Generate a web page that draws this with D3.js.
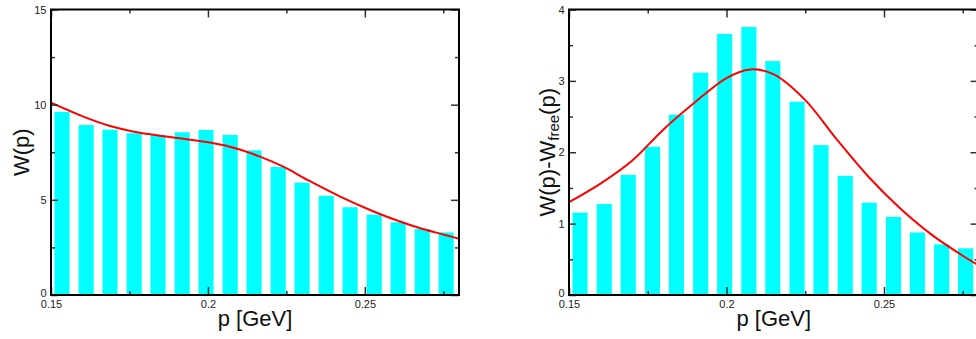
<!DOCTYPE html>
<html>
<head>
<meta charset="utf-8">
<script src="https://cdn.jsdelivr.net/npm/d3@7"></script>
<style>
  body { margin: 0; background: #fff; }
  svg { display: block; font-family: "Liberation Sans", Arial, sans-serif; }
  .tick text { font-size: 11px; fill: #222; }
</style>
</head>
<body>
<svg width="976" height="339"></svg>
<script>
// bin centres (GeV) shared by both panels
const pBins = [0.1535, 0.1612, 0.1688, 0.1765, 0.1841, 0.1918, 0.1994, 0.2071, 0.2147,
  0.2224, 0.2300, 0.2377, 0.2453, 0.2530, 0.2606, 0.2683, 0.2759]

// left panel: W(p)
const wTotal = [9.62, 8.93, 8.69, 8.50, 8.41, 8.55, 8.67, 8.41, 7.60, 6.73, 5.90, 5.21,
  4.61, 4.22, 3.82, 3.47, 3.29]
const fitTotal = [[0.15, 10.1], [0.1603, 9.37], [0.1688, 8.88], [0.1783, 8.52], [0.1879, 8.30],
  [0.1985, 8.06], [0.2070, 7.79], [0.2166, 7.27], [0.2240, 6.74], [0.2325, 5.98], [0.2420, 5.18],
  [0.2526, 4.40], [0.2605, 3.90], [0.2682, 3.48], [0.2759, 3.14], [0.2810, 2.91]]

// right panel: W(p) - Wfree(p)
const wDiff = [1.154, 1.275, 1.683, 2.077, 2.527, 3.115, 3.658, 3.755, 3.278, 2.708, 2.10,
  1.669, 1.293, 1.094, 0.876, 0.709, 0.654]
const fitDiff = [[0.15, 1.30], [0.16, 1.56], [0.17, 1.88], [0.18, 2.32], [0.19, 2.70],
  [0.20, 3.04], [0.2075, 3.16], [0.215, 3.09], [0.225, 2.73], [0.235, 2.18], [0.245, 1.66],
  [0.255, 1.22], [0.265, 0.85], [0.275, 0.55], [0.281, 0.39]]

const xMajor = [0.15, 0.2, 0.25]
const xMinor = [0.175, 0.225, 0.275]
const yMajorLeft = [0, 5, 10, 15]
const yMinorLeft = [2.5, 7.5, 12.5]
const yMajorRight = [0, 1, 2, 3, 4]
const yMinorRight = [0.5, 1.5, 2.5, 3.5]

const svg = d3.select('svg')
const barWidth = 0.0048
const plotTop = 9.5, plotBottom = 295

const drawPanel = (cfg) => {
  const x = d3.scaleLinear().domain([0.15, 0.28]).range([cfg.left, cfg.right])
  const y = d3.scaleLinear().domain([0, cfg.yMax]).range([plotBottom, plotTop])
  const g = svg.append('g')

  g.append('clipPath').attr('id', cfg.id)
    .append('rect')
      .attr('x', cfg.left).attr('y', plotTop)
      .attr('width', cfg.right - cfg.left).attr('height', plotBottom - plotTop)

  g.append('g')
    .selectAll('rect')
    .data(cfg.bars)
    .enter().append('rect')
      .attr('x', (d, i) => x(pBins[i] - barWidth / 2))
      .attr('width', x(0.15 + barWidth) - x(0.15))
      .attr('y', d => y(d))
      .attr('height', d => y(0) - y(d))
      .attr('fill', '#00ffff')

  const line = d3.line()
    .x(d => x(d[0]))
    .y(d => y(d[1]))
    .curve(d3.curveCatmullRom.alpha(0.5))

  g.append('path')
    .datum(cfg.fit)
    .attr('clip-path', `url(#${cfg.id})`)
    .attr('d', line)
    .attr('fill', 'none')
    .attr('stroke', '#ff0000')
    .attr('stroke-width', 2)

  // ticks point inward on all four sides
  const addAxis = (axis, tx, ty, size, vals, labels) => {
    const a = g.append('g')
      .attr('transform', `translate(${tx},${ty})`)
      .call(axis.tickValues(vals).tickSize(-size)
        .tickFormat(labels ? d => d : ''))
    a.select('.domain').remove()
    a.selectAll('.tick line').attr('stroke', '#333').attr('stroke-width', 1.5)
    return a
  }

  addAxis(d3.axisBottom(x).tickPadding(5), 0, plotBottom, 8, xMajor, true)
  addAxis(d3.axisBottom(x), 0, plotBottom, 4, xMinor, false)
  addAxis(d3.axisTop(x), 0, plotTop, 8, xMajor, false)
  addAxis(d3.axisTop(x), 0, plotTop, 4, xMinor, false)
  const yAx = addAxis(d3.axisLeft(y).tickPadding(4.5), cfg.left, 0, 7, cfg.yMajor, true)
  // the zero label sits a little higher so it clears the x labels
  yAx.selectAll('.tick text').filter(d => d === 0).attr('y', -2.5).attr('font-size', 10.5)
  addAxis(d3.axisLeft(y), cfg.left, 0, 4, cfg.yMinor, false)
  addAxis(d3.axisRight(y), cfg.right, 0, 8, cfg.yMajor, false)
  addAxis(d3.axisRight(y), cfg.right, 0, 4, cfg.yMinor, false)

  g.append('rect')
    .attr('x', cfg.left).attr('y', plotTop)
    .attr('width', cfg.right - cfg.left).attr('height', plotBottom - plotTop)
    .attr('fill', 'none')
    .attr('stroke', '#000')
    .attr('stroke-width', 2)

  g.append('text')
    .attr('x', (cfg.left + cfg.right) / 2)
    .attr('y', 326)
    .attr('text-anchor', 'middle')
    .attr('font-size', 22)
    .attr('fill', '#111')
    .text('p [GeV]')

  const yl = g.append('text')
    .attr('transform', `translate(${cfg.labelX},${(plotTop + plotBottom) / 2}) rotate(-90)`)
    .attr('text-anchor', 'middle')
    .attr('font-size', 22)
    .attr('fill', '#111')
  cfg.ylabel(yl)
}

drawPanel({
  id: 'clipL', left: 51, right: 459, yMax: 15,
  yMajor: yMajorLeft, yMinor: yMinorLeft,
  bars: wTotal, fit: fitTotal, labelX: 29,
  ylabel: t => t.text('W(p)')
})

drawPanel({
  id: 'clipR', left: 569, right: 978.5, yMax: 4,
  yMajor: yMajorRight, yMinor: yMinorRight,
  bars: wDiff, fit: fitDiff, labelX: 555,
  ylabel: t => {
    t.append('tspan').text('W(p)-W')
    t.append('tspan').attr('font-size', 15).attr('dy', 4).text('free')
    t.append('tspan').attr('dy', -4).text('(p)')
  }
})
</script>
</body>
</html>
